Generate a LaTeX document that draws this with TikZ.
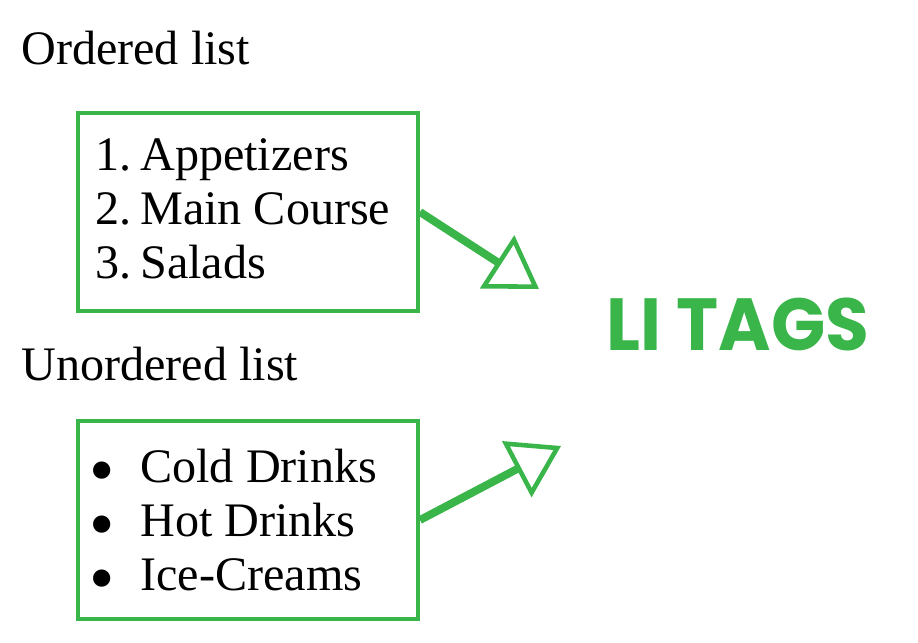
\documentclass[tikz,border=0pt]{standalone}
\usepackage{fontspec}
\setmainfont{Liberation Serif}
\newfontfamily\tagfont{Poppins}
\usepackage{xcolor}
\usepackage{graphicx}
\usetikzlibrary{arrows.meta, positioning}

\definecolor{tagGreen}{RGB}{57,181,74}

\newcommand{\itemmark}[1]{\makebox[0.9cm][l]{#1}}
\newcommand{\bigbullet}{\makebox[1.02cm][l]{\smash{\raisebox{-0.25em}{\scalebox{1.5}{\textbullet}}}}}

\tikzset{
  listtxt/.style={anchor=base west, inner sep=0pt, font=\fontsize{27.4}{32}\selectfont},
  listbox/.style={draw=tagGreen, line width=2.3pt, minimum width=6.8cm, minimum height=3.96cm, inner sep=0pt},
  tagarrow/.style={draw=tagGreen, line width=4.5pt,
    -{Triangle[open, length=1.0cm, width=1.25cm, line width=2.6pt]}}
}

\begin{document}
\begin{tikzpicture}[x=0.02cm, y=-0.02cm]
  \useasboundingbox (0,0) rectangle (918,642);

  % ordered list
  \node[listtxt] (oltitle) at (21,65) {Ordered list};
  \node[listbox] (olbox) at (248,212) {};
  \node[listtxt] (ol1) at (95,170) {\itemmark{1.}Appetizers};
  \node[listtxt] (ol2) at (95,224) {\itemmark{2.}Main Course};
  \node[listtxt] (ol3) at (95,278) {\itemmark{3.}Salads};

  % unordered list
  \node[listtxt] (ultitle) at (21,380) {Unordered list};
  \node[listbox] (ulbox) at (248,520) {};
  \node[listtxt] (ul1) at (89,482) {\bigbullet Cold Drinks};
  \node[listtxt] (ul2) at (89,536) {\bigbullet Hot Drinks};
  \node[listtxt] (ul3) at (89,590) {\bigbullet Ice-Creams};

  % label on the right
  \node[anchor=base west, inner sep=0pt, text=tagGreen, font=\tagfont\bfseries\fontsize{42}{48}\selectfont] (litags) at (606,350) {\scalebox{0.965}[1]{LI TAGS}};

  \coordinate (tip1) at (539,289);
  \coordinate (tip2) at (561,446);
  \draw[tagarrow] (olbox.east) -- (tip1);
  \draw[tagarrow] (ulbox.east) -- (tip2);
\end{tikzpicture}
\end{document}
